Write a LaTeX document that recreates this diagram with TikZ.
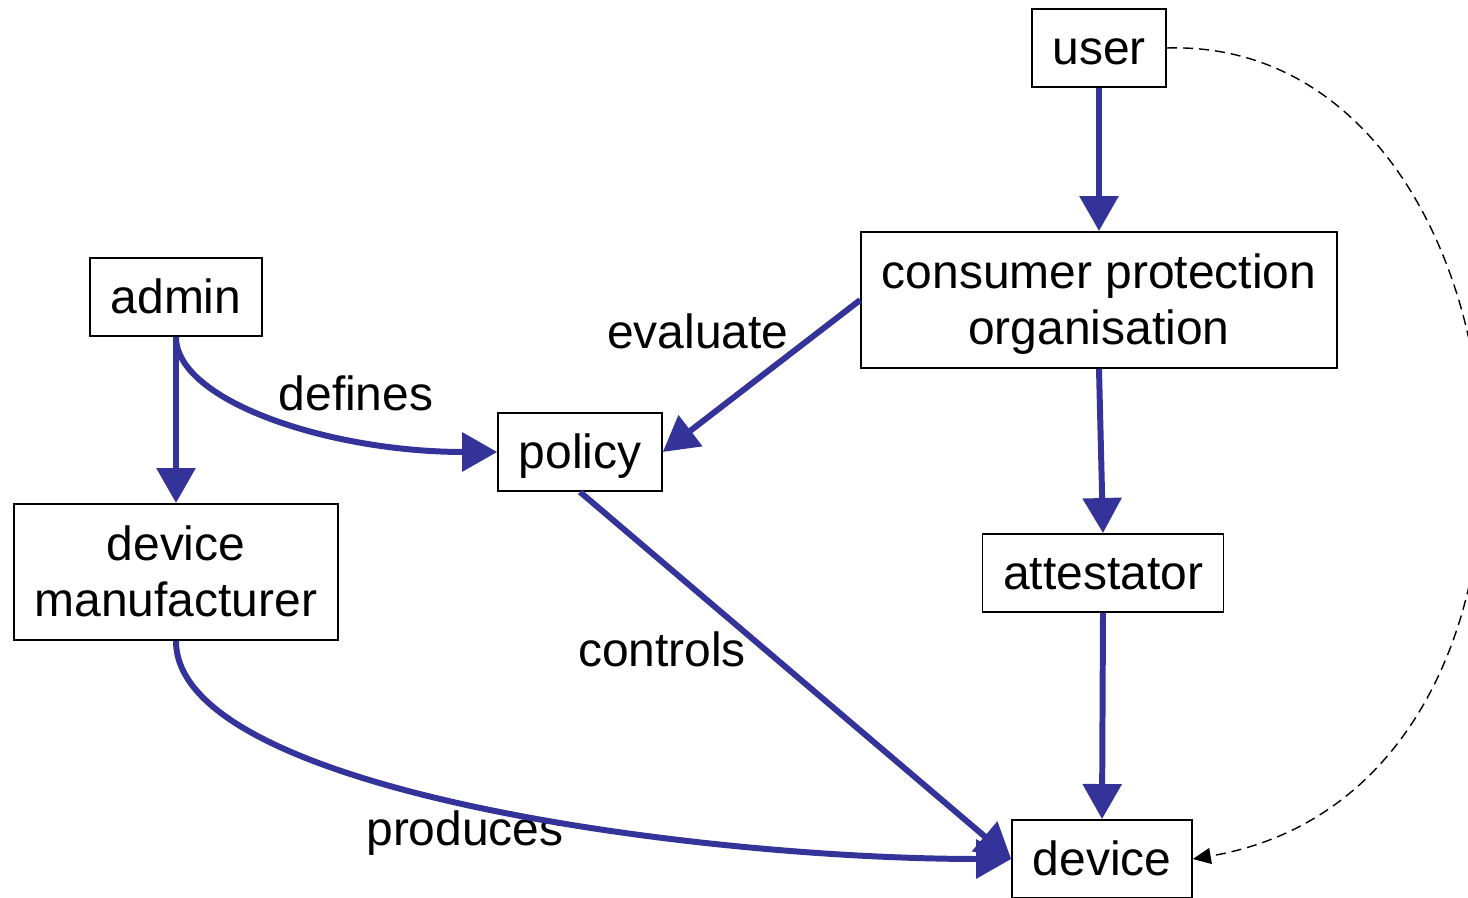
\documentclass[tikz,border=0pt]{standalone}
\usepackage{fontspec}
\setmainfont{Liberation Sans}
\usepackage{tikz}
\usetikzlibrary{arrows.meta}
\definecolor{flowblue}{RGB}{51,51,153}

\begin{document}
\begin{tikzpicture}[
	box/.style={draw, line width=1.1pt, inner xsep=0.41cm, minimum height=1.56cm, align=center, text height=0.9cm, text depth=0.24cm, font=\fontsize{27.3}{32.4}\selectfont},
	tallbox/.style={box, minimum height=2.72cm, text height=2.04cm, text depth=0.24cm},
	word/.style={font=\fontsize{27.3}{32.4}\selectfont},
	flow/.style={draw=flowblue, line width=3.4pt, -{Triangle[length=0.7cm,width=0.76cm]}, flowblue},
	hint/.style={draw, dashed, dash pattern=on 0.2cm off 0.12cm, line width=0.8pt, -{Triangle[length=0.36cm,width=0.32cm]}}
	]
	\useasboundingbox (0,0) rectangle (29.36,17.96);
	
	%the boxes
	\node (user) at (21.98,17.0)[box] {user};
	\node (cpo) at (21.98,11.96)[tallbox] {consumer protection\\organisation};
	\node (admin) at (3.52,12.02)[box] {admin};
	\node (policy) at (11.6,8.92)[box] {policy};
	\node (maker) at (3.52,6.52)[tallbox] {device\\manufacturer};
	\node (attest) at (22.06,6.5)[box] {attestator};
	\node (device) at (22.04,0.78)[box] {device};
	
	%the labels
	\node (evallabel) at (13.96,11.33)[word] {evaluate};
	\node (deflabel) at (7.12,10.1)[word] {defines};
	\node (ctrllabel) at (13.24,4.98)[word] {controls};
	\node (prodlabel) at (9.3,1.3)[word] {produces};
	
	%the arrows
	\draw[flow] (user.south) -- (cpo.north);
	\draw[flow] (cpo.south) -- (attest.north);
	\draw[flow] (attest.south) -- (device.north);
	\draw[flow] (cpo.west) -- (policy.east);
	\draw[flow] (admin.south) -- (maker.north);
	\draw[flow] (admin.south) .. controls +(0,-1.28) and +(-3.36,0) .. (policy.west);
	\draw[flow] (policy.south) -- (device.west);
	\draw[flow] (maker.south) .. controls +(0,-3.0) and +(-6.26,0) .. (device.west);
	\draw[hint] (user.east) .. controls +(7.54,0.22) and +(8.4,1.42) .. (device.east);
\end{tikzpicture}
\end{document}
